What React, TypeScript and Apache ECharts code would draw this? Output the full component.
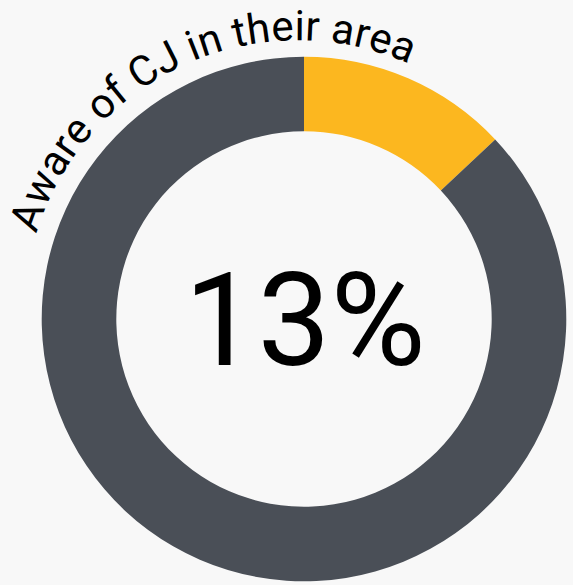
import React, { useEffect, useRef } from 'react';
import * as echarts from 'echarts';

const categories = ['Aware of CJ in their area', 'Not aware'];
const values = [13, 87];
const arcTitle = 'Aware of CJ in their area';
const centerLabel = `${values[0]}%`;
const colors = ['#fcb71f', '#4a4f57'];

export default function App() {
  const ref = useRef<HTMLDivElement>(null);

  useEffect(() => {
    const el = ref.current;
    if (!el) return;
    const chart = echarts.init(el, null, { renderer: 'svg' });

    const fs = 42;
    const family = 'Roboto';
    const canvas = document.createElement('canvas');
    const ctx = canvas.getContext('2d') as CanvasRenderingContext2D;
    ctx.font = `${fs}px ${family}`;
    const chars = Array.from(arcTitle);
    const widths = chars.map((c) => ctx.measureText(c).width);
    const total = widths.reduce((a, b) => a + b, 0);

    const startDeg = -73;
    const endDeg = 24;
    const tcx = 298;
    const tcy = 314;
    const rBase = 274;
    const rMid = rBase + 0.34 * fs;
    const span = ((endDeg - startDeg) * Math.PI) / 180;
    let acc = 0;
    const arcTexts = chars.map((c, i) => {
      const mid = acc + widths[i] / 2;
      acc += widths[i];
      const phi = (startDeg * Math.PI) / 180 + (span * mid) / total;
      return {
        type: 'text',
        x: tcx + rMid * Math.sin(phi),
        y: tcy - rMid * Math.cos(phi),
        rotation: -phi,
        silent: true,
        z: 10,
        style: {
          text: c,
          fontSize: fs,
          lineHeight: 30,
          fontFamily: family,
          fontWeight: 'normal',
          fill: '#000000',
          align: 'center',
          verticalAlign: 'middle',
          textAlign: 'center',
          textVerticalAlign: 'middle',
        },
      };
    });

    const option: any = {
      animation: false,
      backgroundColor: '#f8f8f8',
      series: [
        {
          type: 'pie',
          center: [304, 319],
          radius: [187.7, 262.3],
          startAngle: 90,
          clockwise: true,
          silent: true,
          label: { show: false },
          labelLine: { show: false },
          emphasis: { disabled: true },
          itemStyle: { borderWidth: 0 },
          data: categories.map((name, i) => ({
            name,
            value: values[i],
            itemStyle: { color: colors[i] },
          })),
        },
      ],
      graphic: [
        ...arcTexts,
        {
          type: 'text',
          x: 305,
          y: 320,
          silent: true,
          z: 10,
          style: {
            text: centerLabel,
            fontSize: 130,
            fontFamily: family,
            fontWeight: 'normal',
            fill: '#000000',
            align: 'center',
            verticalAlign: 'middle',
            textAlign: 'center',
            textVerticalAlign: 'middle',
          },
        },
      ],
    };
    chart.setOption(option);
    return () => {
      chart.dispose();
    };
  }, []);

  return (
    <div
      ref={ref}
      style={{ position: 'absolute', left: 0, top: 0, width: 573, height: 585 }}
    />
  );
}
